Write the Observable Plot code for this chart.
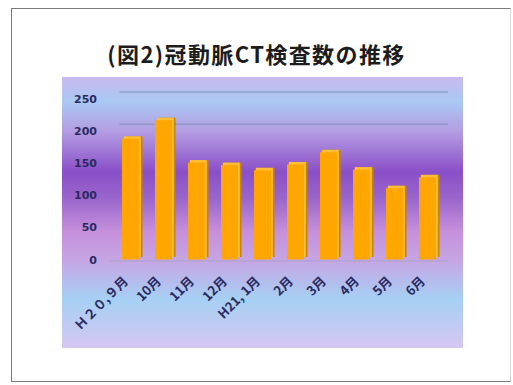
<!DOCTYPE html>
<html>
<head>
<meta charset="utf-8">
<script src="https://cdn.jsdelivr.net/npm/d3@7"></script>
<script src="https://cdn.jsdelivr.net/npm/@observablehq/plot@0.6"></script>
<style>
  html, body { margin: 0; padding: 0; background: #ffffff; }
  #page { position: relative; width: 513px; height: 385px; overflow: hidden; background: #fff; }
  #frame { position: absolute; left: 11px; top: 8px; width: 500px; height: 374px;
           border: 1px solid #7a7a7a; border-right-color: #d8d8d8; box-sizing: border-box; }
  #title { position: absolute; left: 0; width: 513px; top: 40px; text-align: center;
           font-family: "Noto Sans CJK JP", sans-serif; font-weight: 700; font-size: 22px;
           letter-spacing: 1.4px; color: #1c1c1c; line-height: 26px; }
  #panel { position: absolute; left: 62px; top: 77px; width: 401px; height: 271px;
           background: linear-gradient(to bottom,
             #c9b9ee 0%, #a9c9f3 9%, #b49de3 20%, #8a4fc8 35%, #9a66cc 45%,
             #c690dc 57%, #c6a6e4 68%, #a6d0f4 82%, #d6c6f2 100%); }
  #panel svg { background: transparent !important; }
</style>
</head>
<body>
<div id="page">
  <div id="frame"></div>
  <div id="title">(図2)冠動脈CT検査数の推移</div>
  <div id="panel"></div>
</div>
<script>
// Monthly coronary CT examination counts, Sept 2008 (H20) to June 2009 (H21)
const months = ["Ｈ２０,９月", "10月", "11月", "12月", "H21, 1月", "2月", "3月", "4月", "5月", "6月"];
const counts = [188, 217, 151, 147, 139, 148, 167, 140, 111, 128];
const yTicks = [0, 50, 100, 150, 200, 250];
const gridValues = [200, 250];

const rows = months.map((m, i) => ({month: m, count: counts[i]}));

const ink = "#2b2a5e";

const chart = Plot.plot({
  width: 401,
  height: 271,
  marginLeft: 43.5,
  marginRight: 11,
  marginTop: 22,
  marginBottom: 271 - 182.5,
  style: {background: "transparent", fontFamily: "DejaVu Sans, sans-serif", overflow: "visible"},
  x: {domain: months, padding: 0.5},
  y: {domain: [0, 250]},
  marks: [
    // back-wall gridlines, shifted up and right for the 3D look
    Plot.ruleY(gridValues, {dy: -7.5, dx: 9, insetLeft: 5, insetRight: 13, stroke: "#56788c", strokeOpacity: 0.6, strokeWidth: 1}),
    // floor edge
    Plot.ruleY([0], {dy: 1, insetLeft: 4, insetRight: 4, stroke: "#8fa3b8", strokeOpacity: 0.6}),
    // side face of each column
    Plot.rectY(rows, {x: "month", y: "count", dx: 3.5, dy: -2.5, fill: "#c98500"}),
    // top face
    Plot.rectY(rows, {x: "month", y: "count", dx: 1.8, dy: -2.5, fill: "#ffbe3a"}),
    // front face
    Plot.rectY(rows, {x: "month", y: "count", fill: "#ffa600"}),
    Plot.axisY({ticks: yTicks, tickSize: 0, tickPadding: 9, fontSize: 11, fontWeight: "bold", fill: ink, label: null}),
    Plot.axisX({tickSize: 0, tickPadding: 20, tickRotate: -45, dx: -5, dy: -1, fontSize: 13, fontWeight: "bold",
                fontFamily: "Noto Sans CJK JP, sans-serif", fill: ink, label: null})
  ]
});

document.getElementById("panel").appendChild(chart);
</script>
</body>
</html>
